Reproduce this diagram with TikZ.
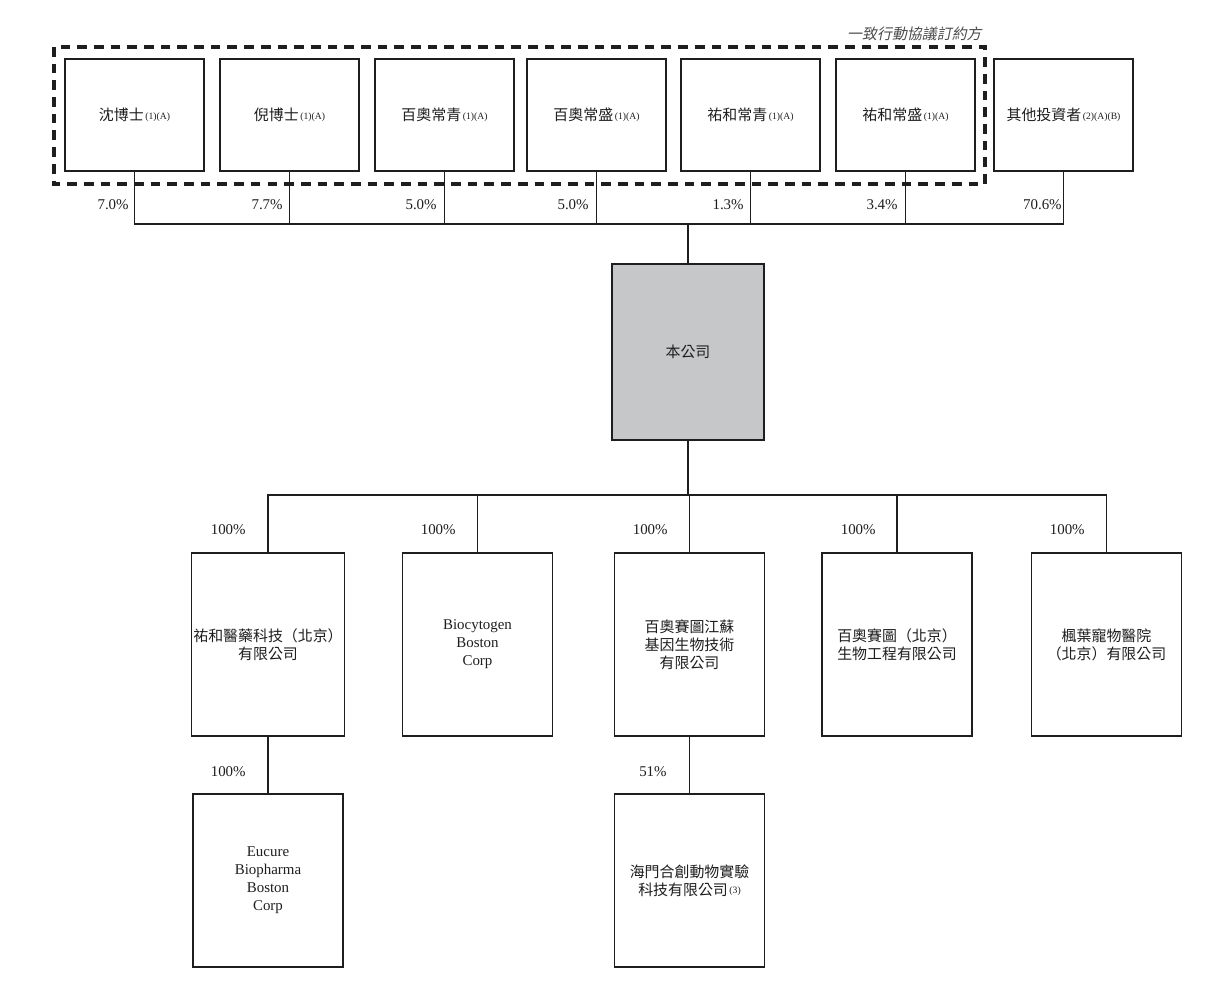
\documentclass[tikz,border=0pt]{standalone}
\usepackage{fontspec}
\setmainfont{Liberation Serif}
\newfontfamily\cjk{Noto Sans CJK TC}
\newfontfamily\cjkit[FakeSlant=0.2]{Noto Sans CJK TC}
\newcommand\fn[1]{{\rmfamily\fontsize{5.5}{5.5}\selectfont\,\raisebox{0.35ex}{#1}}}
\definecolor{cogray}{HTML}{C6C7C9}
\definecolor{ink}{HTML}{1E1E1E}
\begin{document}
\begin{tikzpicture}[x=0.02cm,y=-0.02cm,
  ent/.style={draw=ink,line width=1pt,fill=white,inner sep=1pt,align=center,
    font=\fontsize{8.5}{10.2}\selectfont,text=ink},
  cj/.style={font=\cjk\fontsize{8.5}{10.2}\selectfont},
  topbox/.style={ent,cj,minimum width=139*0.02cm,minimum height=112*0.02cm},
  subbox/.style={ent,minimum width=150*0.02cm,minimum height=183*0.02cm},
  pct/.style={anchor=east,font=\fontsize{8.5}{10}\selectfont,text=ink,inner sep=0pt},
  link/.style={draw=ink,line width=1pt},
  group/.style={draw=ink,line width=1.9pt,dash pattern=on 5.5pt off 4pt}]
\useasboundingbox (0,0) rectangle (1228,990);

% grouping frame
\draw[group] (54,47) rectangle (985,184);
\node[anchor=east,font=\cjkit\fontsize{8.5}{10}\selectfont,text=ink!80,inner sep=0pt] (grp) at (982,34) {一致行動協議訂約方};

% top row
\node[topbox] (t1) at (134.5,115) {沈博士\fn{(1)(A)}};
\node[topbox] (t2) at (289.5,115) {倪博士\fn{(1)(A)}};
\node[topbox] (t3) at (444.5,115) {百奧常青\fn{(1)(A)}};
\node[topbox] (t4) at (596.5,115) {百奧常盛\fn{(1)(A)}};
\node[topbox] (t5) at (750.5,115) {祐和常青\fn{(1)(A)}};
\node[topbox] (t6) at (905.5,115) {祐和常盛\fn{(1)(A)}};
\node[topbox] (t7) at (1063.5,115) {其他投資者\fn{(2)(A)(B)}};

% company
\node[ent,cj,fill=cogray,minimum width=152*0.02cm,minimum height=176*0.02cm] (co) at (688,352) {本公司};

% top bus
\coordinate (busT) at (688,224);
\draw[link] (t1.south) -- (t1.south |- busT) -- (t7.south |- busT) -- (t7.south);
\foreach \n in {t2,t3,t4,t5,t6} \draw[link] (\n.south) -- (\n.south |- busT);
\draw[link] (busT) -- (co.north);

\node[pct] (p1) at (129,205) {7.0\%};
\node[pct] (p2) at (283,205) {7.7\%};
\node[pct] (p3) at (437,205) {5.0\%};
\node[pct] (p4) at (589,205) {5.0\%};
\node[pct] (p5) at (744,205) {1.3\%};
\node[pct] (p6) at (898,205) {3.4\%};
\node[pct] (p7) at (1062,205) {70.6\%};

% subsidiaries
\node[subbox,cj] (a) at (268,644.5) {祐和醫藥科技（北京）\\有限公司};
\node[subbox] (b) at (477.5,644.5) {Biocytogen\\Boston\\Corp};
\node[subbox,cj] (c) at (689.5,644.5) {百奧賽圖江蘇\\基因生物技術\\有限公司};
\node[subbox,cj] (d) at (897,644.5) {百奧賽圖（北京）\\生物工程有限公司};
\node[subbox,cj] (e) at (1106.5,644.5) {楓葉寵物醫院\\（北京）有限公司};

\node[subbox,minimum height=173*0.02cm] (f) at (268,880.5) {Eucure\\Biopharma\\Boston\\Corp};
\node[subbox,cj,minimum height=173*0.02cm] (g) at (689.5,880.5) {海門合創動物實驗\\科技有限公司\fn{(3)}};

\coordinate (busB) at (688,495);
\draw[link] (co.south) -- (busB);
\draw[link] (a.north) -- (a.north |- busB) -- (e.north |- busB) -- (e.north);
\foreach \n in {b,c,d} \draw[link] (\n.north) -- (\n.north |- busB);
\draw[link] (a.south) -- (f.north);
\draw[link] (c.south) -- (g.north);

\node[pct] (q1) at (246,530) {100\%};
\node[pct] (q2) at (456,530) {100\%};
\node[pct] (q3) at (668,530) {100\%};
\node[pct] (q4) at (876,530) {100\%};
\node[pct] (q5) at (1085,530) {100\%};
\node[pct] (q6) at (246,772) {100\%};
\node[pct] (q7) at (667,772) {51\%};
\end{tikzpicture}
\end{document}
